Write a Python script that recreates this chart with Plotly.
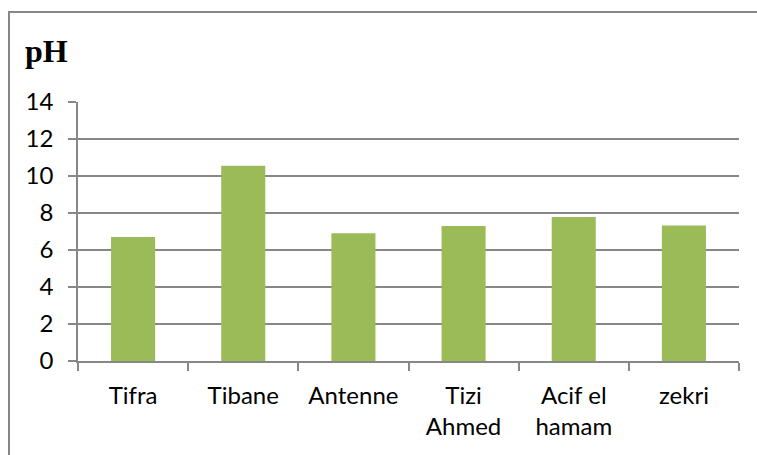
import plotly.graph_objects as go

# pH measured at each site
sites = ["Tifra", "Tibane", "Antenne", "Tizi<br>Ahmed", "Acif el<br>hamam", "zekri"]
ph_values = [6.7, 10.55, 6.9, 7.3, 7.78, 7.33]
y_ticks = [0, 2, 4, 6, 8, 10, 12, 14]

GRID = "#878787"
BAR = "#9BBB59"
LABEL_FONT = dict(family="Lato, 'Open Sans', sans-serif", size=24, color="#000000")

fig = go.Figure(
    go.Bar(
        x=sites,
        y=ph_values,
        marker=dict(color=BAR, line=dict(width=0)),
        width=0.4,
        hoverinfo="x+y",
    )
)

fig.update_layout(
    width=757,
    height=455,
    margin=dict(l=78, r=18, t=102, b=94),
    paper_bgcolor="white",
    plot_bgcolor="white",
    showlegend=False,
    bargap=0.6,
    font=LABEL_FONT,
)

fig.update_xaxes(
    type="category",
    tickson="boundaries",
    ticks="outside",
    ticklen=8,
    tickwidth=1.5,
    tickcolor=GRID,
    showline=True,
    linecolor=GRID,
    linewidth=1.5,
    showgrid=False,
    tickfont=LABEL_FONT,
    ticklabelstandoff=12,
)

fig.update_yaxes(
    range=[0, 14],
    tickvals=y_ticks,
    ticks="outside",
    ticklen=8,
    tickwidth=1.5,
    tickcolor=GRID,
    showline=True,
    linecolor=GRID,
    linewidth=1.5,
    showgrid=True,
    gridcolor=GRID,
    gridwidth=1.5,
    zeroline=False,
    tickfont=LABEL_FONT,
    ticklabelstandoff=10,
)

# Chart title in the upper-left corner
fig.add_annotation(
    text="<b>pH</b>",
    xref="paper", yref="paper",
    x=(23 - 78) / 661, y=(361 - 31) / 259,
    xanchor="left", yanchor="top",
    showarrow=False,
    font=dict(family="'Liberation Serif', 'DejaVu Serif', serif", size=32, color="#000000"),
)

# Outer frame of the chart area
fig.add_shape(
    type="rect",
    xref="paper", yref="paper",
    x0=(9 - 78) / 661, x1=1.2,
    y0=-0.6, y1=(361 - 12) / 259,
    line=dict(color=GRID, width=2),
    fillcolor="rgba(0,0,0,0)",
    layer="below",
)

fig.write_html("out.html")
